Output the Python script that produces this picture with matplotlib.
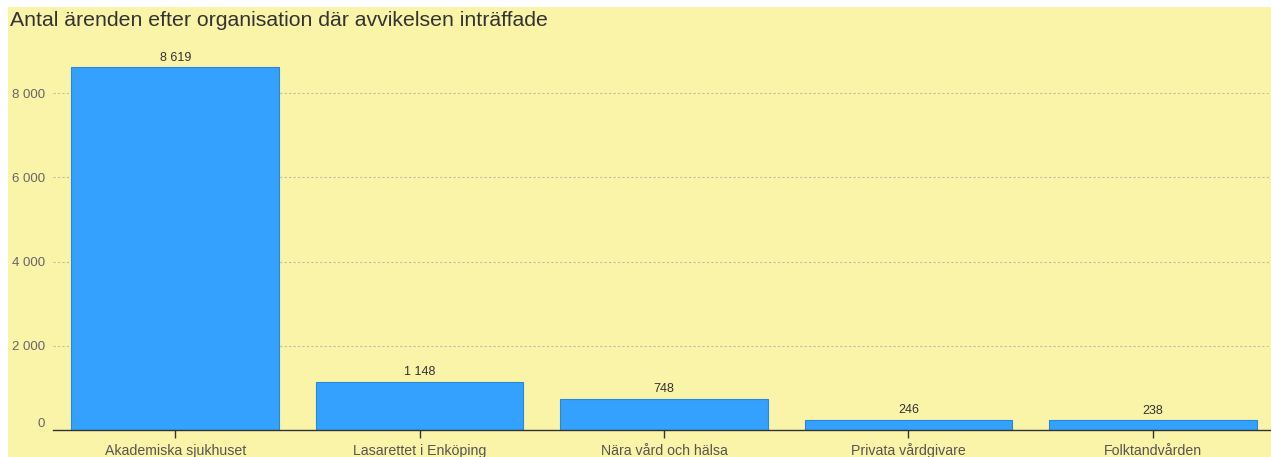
import matplotlib
matplotlib.use("Agg")
import matplotlib.pyplot as plt
from matplotlib.patches import Rectangle
from matplotlib.ticker import FuncFormatter

plt.rcParams["font.family"] = ["Liberation Sans", "DejaVu Sans"]

title = "Antal ärenden efter organisation där avvikelsen inträffade"
categories = ["Akademiska sjukhuset", "Lasarettet i Enköping", "Nära vård och hälsa",
              "Privata vårdgivare", "Folktandvården"]
values = [8619, 1148, 748, 246, 238]
yticks = [0, 2000, 4000, 6000, 8000]

W, H = 1271, 457
fig = plt.figure(figsize=(W / 100, H / 100), dpi=100, facecolor="white")
fig.patches.append(Rectangle((8 / W, 0), 1, (H - 7) / H, transform=fig.transFigure,
                             facecolor="#faf4a8", edgecolor="none", zorder=-10))

def fmt(v):
    return f"{int(round(v)):,}".replace(",", " ")

left, right = 53 / W, 1275 / W
bottom, top = (H - 430) / H, (H - 51) / H
ax = fig.add_axes([left, bottom, right - left, top - bottom])
ax.set_zorder(1)
ax.set_facecolor("none")
x = list(range(len(categories)))
ax.bar(x, values, width=0.85, color="#34a1ff", edgecolor="#2a86d6", linewidth=0.8, zorder=3)
for xi, v in zip(x, values):
    ax.annotate(fmt(v), (xi, v), xytext=(0, 2.5), textcoords="offset points",
                ha="center", va="bottom", fontsize=9, color="#333333")
ax.set_xlim(-0.5, len(categories) - 0.5)
ax.set_ylim(0, 9000)
ax.set_yticks(yticks)
ax.yaxis.set_major_formatter(FuncFormatter(lambda v, p: fmt(v)))
ax.set_xticks(x)
ax.set_xticklabels(categories)
ax.tick_params(axis="x", length=6, width=1, color="#333333", labelsize=10.2, labelcolor="#555555", pad=12)
ax.tick_params(axis="y", length=0, labelsize=9.5, labelcolor="#666666", pad=6)
for lab in ax.get_xticklabels():
    lab.set_verticalalignment("baseline")
for lab in ax.get_yticklabels():
    if lab.get_text() == "0":
        lab.set_verticalalignment("bottom")
ax.grid(axis="y", color="#bdbdaa", linestyle=(0, (2, 2)), linewidth=0.8, zorder=0)
for s in ["top", "right", "left"]:
    ax.spines[s].set_visible(False)
ax.spines["bottom"].set_color("#333333")
ax.spines["bottom"].set_linewidth(1)
ax.spines["bottom"].set_zorder(4)

fig.text(10 / W, 1 - 26 / H, title, ha="left", va="baseline", fontsize=15.3, color="#333333")
fig.savefig("out.png", dpi=100, facecolor=fig.get_facecolor())
